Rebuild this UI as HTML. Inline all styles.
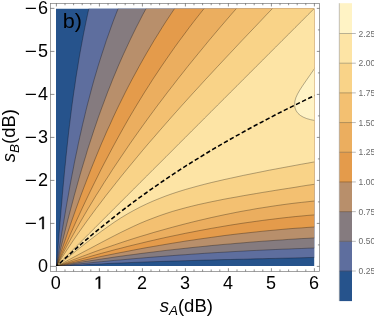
<!DOCTYPE html>
<html><head><meta charset="utf-8"><title>contour plot b)</title><style>
html,body{margin:0;padding:0;background:#fff;}
svg{display:block;will-change:transform;font-family:"Liberation Sans",sans-serif;}
</style></head><body>
<svg width="374" height="316" viewBox="0 0 374 316">
<rect width="374" height="316" fill="#fff"/>
<defs><clipPath id="c"><rect x="56" y="8.7" width="258.2" height="257.4"/></clipPath></defs>
<g clip-path="url(#c)">
<rect x="50" y="0" width="280" height="280" fill="#26538c"/>
<polygon points="56.4,266.4 56.9,259.9 57.5,253.5 58.0,247.0 58.5,240.6 59.0,234.1 59.6,227.7 60.1,221.2 60.7,214.8 61.2,208.3 61.8,201.9 62.3,195.4 62.9,189.0 63.5,182.5 64.1,176.1 64.7,169.6 65.4,163.2 66.0,156.8 66.7,150.3 67.4,143.8 68.1,137.4 68.8,130.9 69.6,124.5 70.4,118.0 71.2,111.6 72.0,105.1 72.9,98.7 73.8,92.2 74.8,85.8 75.7,79.3 76.7,72.9 77.8,66.4 78.8,60.0 79.9,53.5 81.1,47.1 82.3,40.6 83.5,34.2 84.8,27.7 86.1,21.3 87.5,14.8 88.9,8.4 90.4,1.9 91.9,-4.5 357.4,-34.6 327.3,257.1 320.8,257.2 314.4,257.4 307.9,257.6 301.5,257.8 295.1,257.9 288.6,258.1 282.1,258.2 275.7,258.4 269.2,258.5 262.8,258.7 256.3,258.8 249.9,259.0 243.4,259.2 237.0,259.3 230.6,259.5 224.1,259.6 217.7,259.8 211.2,260.0 204.8,260.1 198.3,260.3 191.8,260.5 185.4,260.7 178.9,260.9 172.5,261.1 166.0,261.3 159.6,261.5 153.2,261.7 146.7,261.9 140.2,262.2 133.8,262.4 127.3,262.7 120.9,263.0 114.4,263.2 108.0,263.5 101.5,263.9 95.1,264.2 88.7,264.5 82.2,264.9 75.8,265.2 69.3,265.6 62.9,266.0 56.4,266.4" fill="#5e6e9e"/>
<polygon points="56.4,266.4 57.4,259.9 58.5,253.5 59.5,247.0 60.6,240.6 61.6,234.1 62.7,227.7 63.8,221.2 64.9,214.8 66.0,208.3 67.1,201.9 68.3,195.4 69.4,189.0 70.6,182.5 71.8,176.1 73.1,169.6 74.3,163.2 75.6,156.8 77.0,150.3 78.3,143.8 79.7,137.4 81.2,130.9 82.6,124.5 84.2,118.0 85.7,111.6 87.3,105.1 89.0,98.7 90.7,92.2 92.4,85.8 94.2,79.3 96.1,72.9 98.0,66.4 100.0,60.0 102.1,53.5 104.2,47.1 106.3,40.6 108.6,34.2 110.9,27.7 113.2,21.3 115.7,14.8 118.2,8.4 120.8,1.9 123.5,-4.5 357.4,-34.6 327.3,247.6 320.8,247.8 314.4,248.0 307.9,248.2 301.5,248.5 295.1,248.7 288.6,249.0 282.1,249.2 275.7,249.5 269.2,249.8 262.8,250.1 256.3,250.4 249.9,250.7 243.4,251.1 237.0,251.4 230.6,251.8 224.1,252.2 217.7,252.5 211.2,252.9 204.8,253.3 198.3,253.8 191.8,254.2 185.4,254.7 178.9,255.1 172.5,255.6 166.0,256.1 159.6,256.6 153.2,257.1 146.7,257.6 140.2,258.2 133.8,258.7 127.3,259.3 120.9,259.9 114.4,260.4 108.0,261.1 101.5,261.7 95.1,262.3 88.7,263.0 82.2,263.6 75.8,264.3 69.3,265.0 62.9,265.7 56.4,266.4" fill="#857b7f"/>
<polygon points="56.4,266.4 58.0,259.9 59.5,253.5 61.1,247.0 62.7,240.6 64.3,234.1 65.9,227.7 67.5,221.2 69.2,214.8 70.9,208.3 72.6,201.9 74.3,195.4 76.1,189.0 77.9,182.5 79.7,176.1 81.6,169.6 83.5,163.2 85.5,156.8 87.4,150.3 89.5,143.8 91.6,137.4 93.7,130.9 95.9,124.5 98.1,118.0 100.4,111.6 102.8,105.1 105.2,98.7 107.6,92.2 110.2,85.8 112.7,79.3 115.4,72.9 118.1,66.4 120.9,60.0 123.8,53.5 126.8,47.1 129.8,40.6 132.9,34.2 136.1,27.7 139.4,21.3 142.7,14.8 146.2,8.4 149.7,1.9 153.4,-4.5 357.4,-34.6 327.3,237.2 320.8,237.5 314.4,237.9 307.9,238.3 301.5,238.6 295.1,239.0 288.6,239.4 282.1,239.9 275.7,240.3 269.2,240.8 262.8,241.2 256.3,241.7 249.9,242.2 243.4,242.8 237.0,243.3 230.6,243.9 224.1,244.4 217.7,245.0 211.2,245.6 204.8,246.3 198.3,246.9 191.8,247.6 185.4,248.3 178.9,249.0 172.5,249.7 166.0,250.4 159.6,251.2 153.2,252.0 146.7,252.8 140.2,253.6 133.8,254.5 127.3,255.3 120.9,256.2 114.4,257.1 108.0,258.1 101.5,259.0 95.1,260.0 88.7,261.0 82.2,262.0 75.8,263.1 69.3,264.2 62.9,265.3 56.4,266.4" fill="#b88f6b"/>
<polygon points="56.4,266.4 58.5,259.9 60.6,253.5 62.8,247.0 65.0,240.6 67.2,234.1 69.4,227.7 71.6,221.2 73.9,214.8 76.2,208.3 78.5,201.9 80.9,195.4 83.3,189.0 85.8,182.5 88.3,176.1 90.8,169.6 93.4,163.2 96.0,156.8 98.7,150.3 101.4,143.8 104.2,137.4 107.0,130.9 110.0,124.5 112.9,118.0 115.9,111.6 119.0,105.1 122.2,98.7 125.4,92.2 128.7,85.8 132.1,79.3 135.6,72.9 139.1,66.4 142.7,60.0 146.4,53.5 150.2,47.1 154.0,40.6 158.0,34.2 162.0,27.7 166.1,21.3 170.4,14.8 174.7,8.4 179.1,1.9 183.6,-4.5 357.4,-34.6 327.3,226.3 320.8,226.6 314.4,227.0 307.9,227.4 301.5,227.9 295.1,228.3 288.6,228.8 282.1,229.4 275.7,230.0 269.2,230.6 262.8,231.2 256.3,231.9 249.9,232.6 243.4,233.3 237.0,234.0 230.6,234.8 224.1,235.6 217.7,236.5 211.2,237.4 204.8,238.3 198.3,239.2 191.8,240.2 185.4,241.1 178.9,242.2 172.5,243.2 166.0,244.3 159.6,245.4 153.2,246.5 146.7,247.6 140.2,248.8 133.8,250.0 127.3,251.3 120.9,252.5 114.4,253.8 108.0,255.1 101.5,256.4 95.1,257.8 88.7,259.2 82.2,260.6 75.8,262.0 69.3,263.4 62.9,264.9 56.4,266.4" fill="#e49b4b"/>
<polygon points="56.4,266.4 59.2,259.9 61.9,253.5 64.7,247.0 67.6,240.6 70.4,234.1 73.3,227.7 76.2,221.2 79.2,214.8 82.2,208.3 85.2,201.9 88.3,195.4 91.4,189.0 94.6,182.5 97.8,176.1 101.0,169.6 104.3,163.2 107.7,156.8 111.1,150.3 114.6,143.8 118.1,137.4 121.7,130.9 125.3,124.5 129.0,118.0 132.8,111.6 136.7,105.1 140.6,98.7 144.6,92.2 148.7,85.8 152.8,79.3 157.1,72.9 161.4,66.4 165.8,60.0 170.3,53.5 174.8,47.1 179.5,40.6 184.3,34.2 189.1,27.7 194.0,21.3 199.1,14.8 204.2,8.4 209.5,1.9 214.8,-4.5 357.4,-34.6 327.3,213.9 320.8,214.4 314.4,214.9 307.9,215.4 301.5,216.0 295.1,216.6 288.6,217.3 282.1,218.0 275.7,218.8 269.2,219.6 262.8,220.4 256.3,221.3 249.9,222.2 243.4,223.1 237.0,224.1 230.6,225.1 224.1,226.2 217.7,227.3 211.2,228.4 204.8,229.6 198.3,230.8 191.8,232.1 185.4,233.3 178.9,234.7 172.5,236.0 166.0,237.4 159.6,238.8 153.2,240.3 146.7,241.8 140.2,243.4 133.8,244.9 127.3,246.5 120.9,248.2 114.4,249.8 108.0,251.6 101.5,253.3 95.1,255.1 88.7,256.9 82.2,258.7 75.8,260.6 69.3,262.5 62.9,264.4 56.4,266.4" fill="#ebae5f"/>
<polygon points="56.4,266.4 59.7,259.9 63.0,253.5 66.4,247.0 69.9,240.6 73.5,234.1 77.1,227.7 80.8,221.2 84.5,214.8 88.3,208.3 92.2,201.9 96.1,195.4 100.2,189.0 104.2,182.5 108.4,176.1 112.5,169.6 116.8,163.2 121.1,156.8 125.5,150.3 129.9,143.8 134.4,137.4 139.0,130.9 143.6,124.5 148.3,118.0 153.0,111.6 157.8,105.1 162.7,98.7 167.6,92.2 172.6,85.8 177.6,79.3 182.7,72.9 187.8,66.4 193.0,60.0 198.3,53.5 203.6,47.1 208.9,40.6 214.3,34.2 219.8,27.7 225.3,21.3 230.9,14.8 236.5,8.4 242.2,1.9 247.9,-4.5 357.4,-34.6 327.3,199.9 320.8,200.5 314.4,201.0 307.9,201.7 301.5,202.4 295.1,203.1 288.6,203.9 282.1,204.8 275.7,205.7 269.2,206.7 262.8,207.7 256.3,208.7 249.9,209.9 243.4,211.0 237.0,212.2 230.6,213.5 224.1,214.8 217.7,216.2 211.2,217.6 204.8,219.1 198.3,220.6 191.8,222.2 185.4,223.8 178.9,225.5 172.5,227.2 166.0,229.0 159.6,230.8 153.2,232.6 146.7,234.6 140.2,236.5 133.8,238.5 127.3,240.6 120.9,242.7 114.4,244.9 108.0,247.1 101.5,249.3 95.1,251.6 88.7,254.0 82.2,256.4 75.8,258.8 69.3,261.3 62.9,263.8 56.4,266.4" fill="#f3c071"/>
<polygon points="56.4,266.4 60.5,259.9 64.6,253.5 68.9,247.0 73.2,240.6 77.7,234.1 82.2,227.7 86.8,221.2 91.5,214.8 96.3,208.3 101.2,201.9 106.1,195.4 111.2,189.0 116.3,182.5 121.4,176.1 126.7,169.6 132.0,163.2 137.3,156.8 142.7,150.3 148.2,143.8 153.8,137.4 159.4,130.9 165.0,124.5 170.7,118.0 176.4,111.6 182.2,105.1 188.0,98.7 193.9,92.2 199.8,85.8 205.7,79.3 211.7,72.9 217.7,66.4 223.7,60.0 229.8,53.5 235.8,47.1 241.9,40.6 248.0,34.2 254.2,27.7 260.3,21.3 266.4,14.8 272.6,8.4 278.8,1.9 284.9,-4.5 357.4,-34.6 327.3,182.3 320.8,183.3 314.4,184.3 307.9,185.2 301.5,186.2 295.1,187.3 288.6,188.3 282.1,189.3 275.7,190.3 269.2,191.4 262.8,192.4 256.3,193.5 249.9,194.6 243.4,195.7 237.0,196.9 230.6,198.0 224.1,199.2 217.7,200.5 211.2,201.8 204.8,203.2 198.3,204.6 191.8,206.2 185.4,207.8 178.9,209.6 172.5,211.4 166.0,213.5 159.6,215.7 153.2,218.1 146.7,220.6 140.2,223.3 133.8,226.2 127.3,229.3 120.9,232.4 114.4,235.7 108.0,239.0 101.5,242.4 95.1,245.8 88.7,249.2 82.2,252.6 75.8,256.1 69.3,259.5 62.9,263.0 56.4,266.4" fill="#f9d388"/>
<polygon points="56.4,266.4 62.8,259.9 69.3,253.5 75.7,247.0 82.2,240.6 88.6,234.1 95.1,227.7 101.5,221.2 108.0,214.8 114.4,208.3 120.9,201.9 127.3,195.4 133.8,189.0 140.2,182.5 146.7,176.1 153.1,169.6 159.6,163.2 166.0,156.8 172.5,150.3 178.9,143.8 185.4,137.4 191.8,130.9 198.3,124.5 204.7,118.0 211.2,111.6 217.6,105.1 224.1,98.7 230.5,92.2 237.0,85.8 243.4,79.3 249.9,72.9 256.3,66.4 262.8,60.0 269.2,53.5 275.7,47.1 282.1,40.6 288.6,34.2 295.0,27.7 301.5,21.3 307.9,14.8 314.4,8.4 320.8,1.9 327.3,-4.5 357.4,-34.6 327.3,159.6 320.8,160.8 314.4,161.9 307.9,163.1 301.5,164.2 295.1,165.4 288.6,166.6 282.1,167.8 275.7,169.0 269.2,170.2 262.8,171.5 256.3,172.8 249.9,174.1 243.4,175.4 237.0,176.8 230.6,178.2 224.1,179.6 217.7,181.1 211.2,182.6 204.8,184.2 198.3,185.9 191.8,187.7 185.4,189.5 178.9,191.5 172.5,193.6 166.0,195.9 159.6,198.4 153.2,201.0 146.7,203.9 140.2,207.0 133.8,210.4 127.3,214.0 120.9,217.9 114.4,222.1 108.0,226.6 101.5,231.2 95.1,236.0 88.7,240.9 82.2,246.0 75.8,251.1 69.3,256.2 62.9,261.3 56.4,266.4" fill="#fde4a5"/>
<path d="M 318 63.4 L 314.2 69 C 301.8 87.2, 294.6 95.4, 294.6 104.4 C 294.6 114.4, 303.6 118.6, 314.2 120.4 L 318 121.3 Z" fill="#fff3c5"/>
<g fill="none" stroke="#000" stroke-opacity="0.6" stroke-width="0.5">
<polyline points="56.4,266.4 56.9,259.9 57.5,253.5 58.0,247.0 58.5,240.6 59.0,234.1 59.6,227.7 60.1,221.2 60.7,214.8 61.2,208.3 61.8,201.9 62.3,195.4 62.9,189.0 63.5,182.5 64.1,176.1 64.7,169.6 65.4,163.2 66.0,156.8 66.7,150.3 67.4,143.8 68.1,137.4 68.8,130.9 69.6,124.5 70.4,118.0 71.2,111.6 72.0,105.1 72.9,98.7 73.8,92.2 74.8,85.8 75.7,79.3 76.7,72.9 77.8,66.4 78.8,60.0 79.9,53.5 81.1,47.1 82.3,40.6 83.5,34.2 84.8,27.7 86.1,21.3 87.5,14.8 88.9,8.4 90.4,1.9 91.9,-4.5"/>
<polyline points="56.4,266.4 62.9,266.0 69.3,265.6 75.8,265.2 82.2,264.9 88.7,264.5 95.1,264.2 101.5,263.9 108.0,263.5 114.4,263.2 120.9,263.0 127.3,262.7 133.8,262.4 140.2,262.2 146.7,261.9 153.2,261.7 159.6,261.5 166.0,261.3 172.5,261.1 178.9,260.9 185.4,260.7 191.8,260.5 198.3,260.3 204.8,260.1 211.2,260.0 217.7,259.8 224.1,259.6 230.6,259.5 237.0,259.3 243.4,259.2 249.9,259.0 256.3,258.8 262.8,258.7 269.2,258.5 275.7,258.4 282.1,258.2 288.6,258.1 295.1,257.9 301.5,257.8 307.9,257.6 314.4,257.4 320.8,257.2 327.3,257.1"/>
<polyline points="56.4,266.4 57.4,259.9 58.5,253.5 59.5,247.0 60.6,240.6 61.6,234.1 62.7,227.7 63.8,221.2 64.9,214.8 66.0,208.3 67.1,201.9 68.3,195.4 69.4,189.0 70.6,182.5 71.8,176.1 73.1,169.6 74.3,163.2 75.6,156.8 77.0,150.3 78.3,143.8 79.7,137.4 81.2,130.9 82.6,124.5 84.2,118.0 85.7,111.6 87.3,105.1 89.0,98.7 90.7,92.2 92.4,85.8 94.2,79.3 96.1,72.9 98.0,66.4 100.0,60.0 102.1,53.5 104.2,47.1 106.3,40.6 108.6,34.2 110.9,27.7 113.2,21.3 115.7,14.8 118.2,8.4 120.8,1.9 123.5,-4.5"/>
<polyline points="56.4,266.4 62.9,265.7 69.3,265.0 75.8,264.3 82.2,263.6 88.7,263.0 95.1,262.3 101.5,261.7 108.0,261.1 114.4,260.4 120.9,259.9 127.3,259.3 133.8,258.7 140.2,258.2 146.7,257.6 153.2,257.1 159.6,256.6 166.0,256.1 172.5,255.6 178.9,255.1 185.4,254.7 191.8,254.2 198.3,253.8 204.8,253.3 211.2,252.9 217.7,252.5 224.1,252.2 230.6,251.8 237.0,251.4 243.4,251.1 249.9,250.7 256.3,250.4 262.8,250.1 269.2,249.8 275.7,249.5 282.1,249.2 288.6,249.0 295.1,248.7 301.5,248.5 307.9,248.2 314.4,248.0 320.8,247.8 327.3,247.6"/>
<polyline points="56.4,266.4 58.0,259.9 59.5,253.5 61.1,247.0 62.7,240.6 64.3,234.1 65.9,227.7 67.5,221.2 69.2,214.8 70.9,208.3 72.6,201.9 74.3,195.4 76.1,189.0 77.9,182.5 79.7,176.1 81.6,169.6 83.5,163.2 85.5,156.8 87.4,150.3 89.5,143.8 91.6,137.4 93.7,130.9 95.9,124.5 98.1,118.0 100.4,111.6 102.8,105.1 105.2,98.7 107.6,92.2 110.2,85.8 112.7,79.3 115.4,72.9 118.1,66.4 120.9,60.0 123.8,53.5 126.8,47.1 129.8,40.6 132.9,34.2 136.1,27.7 139.4,21.3 142.7,14.8 146.2,8.4 149.7,1.9 153.4,-4.5"/>
<polyline points="56.4,266.4 62.9,265.3 69.3,264.2 75.8,263.1 82.2,262.0 88.7,261.0 95.1,260.0 101.5,259.0 108.0,258.1 114.4,257.1 120.9,256.2 127.3,255.3 133.8,254.5 140.2,253.6 146.7,252.8 153.2,252.0 159.6,251.2 166.0,250.4 172.5,249.7 178.9,249.0 185.4,248.3 191.8,247.6 198.3,246.9 204.8,246.3 211.2,245.6 217.7,245.0 224.1,244.4 230.6,243.9 237.0,243.3 243.4,242.8 249.9,242.2 256.3,241.7 262.8,241.2 269.2,240.8 275.7,240.3 282.1,239.9 288.6,239.4 295.1,239.0 301.5,238.6 307.9,238.3 314.4,237.9 320.8,237.5 327.3,237.2"/>
<polyline points="56.4,266.4 58.5,259.9 60.6,253.5 62.8,247.0 65.0,240.6 67.2,234.1 69.4,227.7 71.6,221.2 73.9,214.8 76.2,208.3 78.5,201.9 80.9,195.4 83.3,189.0 85.8,182.5 88.3,176.1 90.8,169.6 93.4,163.2 96.0,156.8 98.7,150.3 101.4,143.8 104.2,137.4 107.0,130.9 110.0,124.5 112.9,118.0 115.9,111.6 119.0,105.1 122.2,98.7 125.4,92.2 128.7,85.8 132.1,79.3 135.6,72.9 139.1,66.4 142.7,60.0 146.4,53.5 150.2,47.1 154.0,40.6 158.0,34.2 162.0,27.7 166.1,21.3 170.4,14.8 174.7,8.4 179.1,1.9 183.6,-4.5"/>
<polyline points="56.4,266.4 62.9,264.9 69.3,263.4 75.8,262.0 82.2,260.6 88.7,259.2 95.1,257.8 101.5,256.4 108.0,255.1 114.4,253.8 120.9,252.5 127.3,251.3 133.8,250.0 140.2,248.8 146.7,247.6 153.2,246.5 159.6,245.4 166.0,244.3 172.5,243.2 178.9,242.2 185.4,241.1 191.8,240.2 198.3,239.2 204.8,238.3 211.2,237.4 217.7,236.5 224.1,235.6 230.6,234.8 237.0,234.0 243.4,233.3 249.9,232.6 256.3,231.9 262.8,231.2 269.2,230.6 275.7,230.0 282.1,229.4 288.6,228.8 295.1,228.3 301.5,227.9 307.9,227.4 314.4,227.0 320.8,226.6 327.3,226.3"/>
<polyline points="56.4,266.4 59.2,259.9 61.9,253.5 64.7,247.0 67.6,240.6 70.4,234.1 73.3,227.7 76.2,221.2 79.2,214.8 82.2,208.3 85.2,201.9 88.3,195.4 91.4,189.0 94.6,182.5 97.8,176.1 101.0,169.6 104.3,163.2 107.7,156.8 111.1,150.3 114.6,143.8 118.1,137.4 121.7,130.9 125.3,124.5 129.0,118.0 132.8,111.6 136.7,105.1 140.6,98.7 144.6,92.2 148.7,85.8 152.8,79.3 157.1,72.9 161.4,66.4 165.8,60.0 170.3,53.5 174.8,47.1 179.5,40.6 184.3,34.2 189.1,27.7 194.0,21.3 199.1,14.8 204.2,8.4 209.5,1.9 214.8,-4.5"/>
<polyline points="56.4,266.4 62.9,264.4 69.3,262.5 75.8,260.6 82.2,258.7 88.7,256.9 95.1,255.1 101.5,253.3 108.0,251.6 114.4,249.8 120.9,248.2 127.3,246.5 133.8,244.9 140.2,243.4 146.7,241.8 153.2,240.3 159.6,238.8 166.0,237.4 172.5,236.0 178.9,234.7 185.4,233.3 191.8,232.1 198.3,230.8 204.8,229.6 211.2,228.4 217.7,227.3 224.1,226.2 230.6,225.1 237.0,224.1 243.4,223.1 249.9,222.2 256.3,221.3 262.8,220.4 269.2,219.6 275.7,218.8 282.1,218.0 288.6,217.3 295.1,216.6 301.5,216.0 307.9,215.4 314.4,214.9 320.8,214.4 327.3,213.9"/>
<polyline points="56.4,266.4 59.7,259.9 63.0,253.5 66.4,247.0 69.9,240.6 73.5,234.1 77.1,227.7 80.8,221.2 84.5,214.8 88.3,208.3 92.2,201.9 96.1,195.4 100.2,189.0 104.2,182.5 108.4,176.1 112.5,169.6 116.8,163.2 121.1,156.8 125.5,150.3 129.9,143.8 134.4,137.4 139.0,130.9 143.6,124.5 148.3,118.0 153.0,111.6 157.8,105.1 162.7,98.7 167.6,92.2 172.6,85.8 177.6,79.3 182.7,72.9 187.8,66.4 193.0,60.0 198.3,53.5 203.6,47.1 208.9,40.6 214.3,34.2 219.8,27.7 225.3,21.3 230.9,14.8 236.5,8.4 242.2,1.9 247.9,-4.5"/>
<polyline points="56.4,266.4 62.9,263.8 69.3,261.3 75.8,258.8 82.2,256.4 88.7,254.0 95.1,251.6 101.5,249.3 108.0,247.1 114.4,244.9 120.9,242.7 127.3,240.6 133.8,238.5 140.2,236.5 146.7,234.6 153.2,232.6 159.6,230.8 166.0,229.0 172.5,227.2 178.9,225.5 185.4,223.8 191.8,222.2 198.3,220.6 204.8,219.1 211.2,217.6 217.7,216.2 224.1,214.8 230.6,213.5 237.0,212.2 243.4,211.0 249.9,209.9 256.3,208.7 262.8,207.7 269.2,206.7 275.7,205.7 282.1,204.8 288.6,203.9 295.1,203.1 301.5,202.4 307.9,201.7 314.4,201.0 320.8,200.5 327.3,199.9"/>
<polyline points="56.4,266.4 60.5,259.9 64.6,253.5 68.9,247.0 73.2,240.6 77.7,234.1 82.2,227.7 86.8,221.2 91.5,214.8 96.3,208.3 101.2,201.9 106.1,195.4 111.2,189.0 116.3,182.5 121.4,176.1 126.7,169.6 132.0,163.2 137.3,156.8 142.7,150.3 148.2,143.8 153.8,137.4 159.4,130.9 165.0,124.5 170.7,118.0 176.4,111.6 182.2,105.1 188.0,98.7 193.9,92.2 199.8,85.8 205.7,79.3 211.7,72.9 217.7,66.4 223.7,60.0 229.8,53.5 235.8,47.1 241.9,40.6 248.0,34.2 254.2,27.7 260.3,21.3 266.4,14.8 272.6,8.4 278.8,1.9 284.9,-4.5"/>
<polyline points="56.4,266.4 62.9,263.0 69.3,259.5 75.8,256.1 82.2,252.6 88.7,249.2 95.1,245.8 101.5,242.4 108.0,239.0 114.4,235.7 120.9,232.4 127.3,229.3 133.8,226.2 140.2,223.3 146.7,220.6 153.2,218.1 159.6,215.7 166.0,213.5 172.5,211.4 178.9,209.6 185.4,207.8 191.8,206.2 198.3,204.6 204.8,203.2 211.2,201.8 217.7,200.5 224.1,199.2 230.6,198.0 237.0,196.9 243.4,195.7 249.9,194.6 256.3,193.5 262.8,192.4 269.2,191.4 275.7,190.3 282.1,189.3 288.6,188.3 295.1,187.3 301.5,186.2 307.9,185.2 314.4,184.3 320.8,183.3 327.3,182.3"/>
<polyline points="56.4,266.4 62.8,259.9 69.3,253.5 75.7,247.0 82.2,240.6 88.6,234.1 95.1,227.7 101.5,221.2 108.0,214.8 114.4,208.3 120.9,201.9 127.3,195.4 133.8,189.0 140.2,182.5 146.7,176.1 153.1,169.6 159.6,163.2 166.0,156.8 172.5,150.3 178.9,143.8 185.4,137.4 191.8,130.9 198.3,124.5 204.7,118.0 211.2,111.6 217.6,105.1 224.1,98.7 230.5,92.2 237.0,85.8 243.4,79.3 249.9,72.9 256.3,66.4 262.8,60.0 269.2,53.5 275.7,47.1 282.1,40.6 288.6,34.2 295.0,27.7 301.5,21.3 307.9,14.8 314.4,8.4 320.8,1.9 327.3,-4.5"/>
<polyline points="56.4,266.4 62.9,261.3 69.3,256.2 75.8,251.1 82.2,246.0 88.7,240.9 95.1,236.0 101.5,231.2 108.0,226.6 114.4,222.1 120.9,217.9 127.3,214.0 133.8,210.4 140.2,207.0 146.7,203.9 153.2,201.0 159.6,198.4 166.0,195.9 172.5,193.6 178.9,191.5 185.4,189.5 191.8,187.7 198.3,185.9 204.8,184.2 211.2,182.6 217.7,181.1 224.1,179.6 230.6,178.2 237.0,176.8 243.4,175.4 249.9,174.1 256.3,172.8 262.8,171.5 269.2,170.2 275.7,169.0 282.1,167.8 288.6,166.6 295.1,165.4 301.5,164.2 307.9,163.1 314.4,161.9 320.8,160.8 327.3,159.6"/>
<path d="M 318 63.4 L 314.2 69 C 301.8 87.2, 294.6 95.4, 294.6 104.4 C 294.6 114.4, 303.6 118.6, 314.2 120.4 L 318 121.3"/>
</g>
<polyline points="56.4,266.4 63.2,260.1 70.1,253.9 76.9,247.8 83.7,241.9 90.6,236.0 97.4,230.3 104.3,224.8 111.1,219.3 117.9,213.9 124.8,208.6 131.6,203.5 138.4,198.4 145.3,193.5 152.1,188.6 158.9,183.9 165.8,179.2 172.6,174.6 179.4,170.1 186.3,165.7 193.1,161.4 200.0,157.2 206.8,153.0 213.6,148.9 220.5,144.9 227.3,141.0 234.1,137.1 241.0,133.3 247.8,129.5 254.6,125.8 261.5,122.2 268.3,118.6 275.1,115.0 282.0,111.5 288.8,108.1 295.7,104.7 302.5,101.4 309.3,98.0 316.2,94.8 323.0,91.5" fill="none" stroke="#000" stroke-width="1.55" stroke-dasharray="4.4 2.4" stroke-dashoffset="2.2"/>
</g>
<rect x="50.4" y="3.35" width="269.1" height="268" fill="none" stroke="#7a7a7a" stroke-width="0.7"/>
<path d="M56.4 271.35v-5.0M56.4 3.35v3.1M65.0 271.35v-1.9M65.0 3.35v1.9M73.6 271.35v-1.9M73.6 3.35v1.9M82.2 271.35v-1.9M82.2 3.35v1.9M90.8 271.35v-1.9M90.8 3.35v1.9M99.4 271.35v-3.1M99.4 3.35v3.1M108.0 271.35v-1.9M108.0 3.35v1.9M116.6 271.35v-1.9M116.6 3.35v1.9M125.2 271.35v-1.9M125.2 3.35v1.9M133.8 271.35v-1.9M133.8 3.35v1.9M142.4 271.35v-3.1M142.4 3.35v3.1M151.0 271.35v-1.9M151.0 3.35v1.9M159.6 271.35v-1.9M159.6 3.35v1.9M168.2 271.35v-1.9M168.2 3.35v1.9M176.8 271.35v-1.9M176.8 3.35v1.9M185.4 271.35v-3.1M185.4 3.35v3.1M194.0 271.35v-1.9M194.0 3.35v1.9M202.6 271.35v-1.9M202.6 3.35v1.9M211.2 271.35v-1.9M211.2 3.35v1.9M219.8 271.35v-1.9M219.8 3.35v1.9M228.4 271.35v-3.1M228.4 3.35v3.1M237.0 271.35v-1.9M237.0 3.35v1.9M245.6 271.35v-1.9M245.6 3.35v1.9M254.2 271.35v-1.9M254.2 3.35v1.9M262.8 271.35v-1.9M262.8 3.35v1.9M271.4 271.35v-3.1M271.4 3.35v3.1M280.0 271.35v-1.9M280.0 3.35v1.9M288.6 271.35v-1.9M288.6 3.35v1.9M297.2 271.35v-1.9M297.2 3.35v1.9M305.8 271.35v-1.9M305.8 3.35v1.9M314.4 271.35v-3.1M314.4 3.35v3.1M50.4 266.4h5.6M319.5 266.4h-2.7M319.5 244.9h-1.6M50.4 223.4h4.0M319.5 223.4h-2.7M319.5 201.9h-1.6M50.4 180.4h4.0M319.5 180.4h-2.7M319.5 158.9h-1.6M50.4 137.4h4.0M319.5 137.4h-2.7M319.5 115.9h-1.6M50.4 94.4h4.0M319.5 94.4h-2.7M319.5 72.9h-1.6M50.4 51.4h4.0M319.5 51.4h-2.7M319.5 29.9h-1.6M50.4 8.4h4.0M319.5 8.4h-2.7" stroke="#4a4a4a" stroke-width="0.62" fill="none"/>
<g font-size="18" fill="#000"><text x="55.8" y="288.8" text-anchor="middle">0</text><text x="142.1" y="288.8" text-anchor="middle">2</text><text x="185.1" y="288.8" text-anchor="middle">3</text><text x="228.1" y="288.8" text-anchor="middle">4</text><text x="271.0" y="288.8" text-anchor="middle">5</text><text x="314.0" y="288.8" text-anchor="middle">6</text><path d="M98.58 288.80 L98.58 277.93 L95.78 279.92 L95.78 278.43 L98.71 276.42 L100.17 276.42 L100.17 288.80 Z" fill="#000" stroke="#000" stroke-width="0.3"/><text x="48.1" y="272.1" text-anchor="end">0</text><text x="48.1" y="186.1" text-anchor="end">2</text><text x="48.1" y="143.1" text-anchor="end">3</text><text x="48.1" y="100.1" text-anchor="end">4</text><text x="48.1" y="57.1" text-anchor="end">5</text><text x="48.1" y="14.1" text-anchor="end">6</text><path d="M42.23 229.10 L42.23 218.23 L39.43 220.22 L39.43 218.73 L42.36 216.72 L43.82 216.72 L43.82 229.10 Z" fill="#000" stroke="#000" stroke-width="0.3"/><path d="M25.8 223.3H35.9M25.8 180.3H35.9M25.8 137.3H35.9M25.8 94.3H35.9M25.8 51.3H35.9M25.8 8.3H35.9" stroke="#000" stroke-width="1.2" fill="none"/></g>
<text transform="translate(62.8,27.9) scale(1.08,1)" font-size="20" fill="#000">b)</text>
<text x="159.7" y="311.7" font-size="18.5" fill="#000"><tspan font-style="italic">s</tspan><tspan font-style="italic" font-size="13.5" dy="3.7">A</tspan><tspan dy="-3.7">(dB)</tspan></text>
<text transform="translate(14.8,162.2) rotate(-90)" font-size="18.5" fill="#000"><tspan font-style="italic">s</tspan><tspan font-style="italic" font-size="13.5" dy="3.7">B</tspan><tspan dy="-3.7">(dB)</tspan></text>
<rect x="339.3" y="271.02" width="12.7" height="30.08" fill="#26538c"/>
<rect x="339.3" y="241.33" width="12.7" height="29.99" fill="#5e6e9e"/>
<rect x="339.3" y="211.64" width="12.7" height="29.99" fill="#857b7f"/>
<rect x="339.3" y="181.95" width="12.7" height="29.99" fill="#b88f6b"/>
<rect x="339.3" y="152.26" width="12.7" height="29.99" fill="#e49b4b"/>
<rect x="339.3" y="122.57" width="12.7" height="29.99" fill="#ebae5f"/>
<rect x="339.3" y="92.88" width="12.7" height="29.99" fill="#f3c071"/>
<rect x="339.3" y="63.19" width="12.7" height="29.99" fill="#f9d388"/>
<rect x="339.3" y="33.50" width="12.7" height="29.99" fill="#fde4a5"/>
<rect x="339.3" y="3.20" width="12.7" height="30.60" fill="#fff3c5"/>
<path d="M339.3 271.02H355.8" stroke="#000" stroke-opacity="0.5" stroke-width="0.55" fill="none"/>
<path d="M339.3 241.33H355.8" stroke="#000" stroke-opacity="0.5" stroke-width="0.55" fill="none"/>
<path d="M339.3 211.64H355.8" stroke="#000" stroke-opacity="0.5" stroke-width="0.55" fill="none"/>
<path d="M339.3 181.95H355.8" stroke="#000" stroke-opacity="0.5" stroke-width="0.55" fill="none"/>
<path d="M339.3 152.26H355.8" stroke="#000" stroke-opacity="0.5" stroke-width="0.55" fill="none"/>
<path d="M339.3 122.57H355.8" stroke="#000" stroke-opacity="0.5" stroke-width="0.55" fill="none"/>
<path d="M339.3 92.88H355.8" stroke="#000" stroke-opacity="0.5" stroke-width="0.55" fill="none"/>
<path d="M339.3 63.19H355.8" stroke="#000" stroke-opacity="0.5" stroke-width="0.55" fill="none"/>
<path d="M339.3 33.50H355.8" stroke="#000" stroke-opacity="0.5" stroke-width="0.55" fill="none"/>
<path d="M339.3 3.2V301" stroke="#999" stroke-width="0.6" fill="none"/>
<g font-size="8.5" fill="#6a6a6a"><text x="358.6" y="274.1">0.25</text><text x="358.6" y="244.4">0.50</text><text x="358.6" y="214.7">0.75</text><text x="358.6" y="185.0">1.00</text><text x="358.6" y="155.3">1.25</text><text x="358.6" y="125.6">1.50</text><text x="358.6" y="95.9">1.75</text><text x="358.6" y="66.2">2.00</text><text x="358.6" y="36.5">2.25</text></g>
</svg>
</body></html>
